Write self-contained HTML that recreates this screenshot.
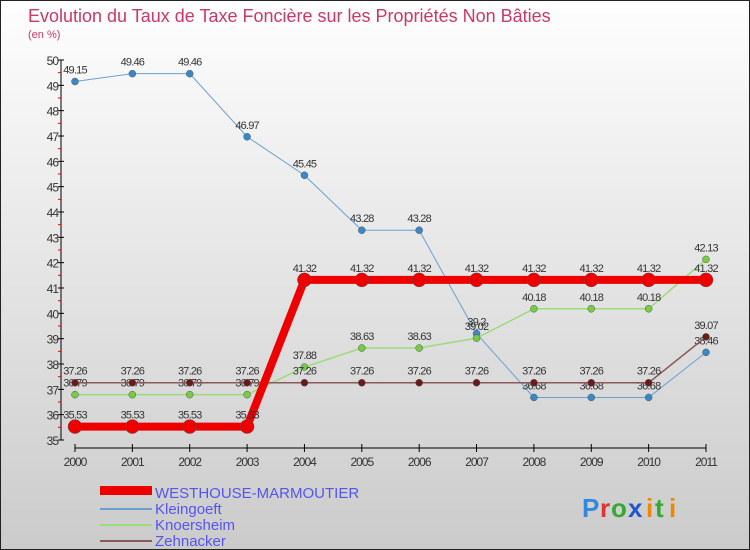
<!DOCTYPE html>
<html><head><meta charset="utf-8"><style>
body{margin:0;}
#wrap{width:750px;height:550px;position:relative;overflow:hidden;font-family:"Liberation Sans",sans-serif;}
</style></head><body>
<div id="wrap">
<svg id="svg" width="750" height="550" xmlns="http://www.w3.org/2000/svg">
<defs><linearGradient id="bg" x1="0" y1="0" x2="0" y2="1"><stop offset="0" stop-color="#fefefe"/><stop offset="1" stop-color="#cbcbcb"/></linearGradient></defs>
<rect x="0.5" y="0.5" width="749" height="549" fill="url(#bg)" stroke="#222"/>
<text x="28" y="22" font-size="18" fill="#c8386a">Evolution du Taux de Taxe Foncière sur les Propriétés Non Bâties</text>
<text x="28" y="38" font-size="11" fill="#c8386a">(en %)</text>
<g id="axes"></g>
<g id="series"></g>
<g id="legend">
<rect x="100" y="486" width="52" height="9" fill="#ee0000"/>
<text x="155" y="498" font-size="15" fill="#5555ee">WESTHOUSE-MARMOUTIER</text>
<line x1="100" y1="509" x2="152" y2="509" stroke="#6aa0d0" stroke-width="2"/>
<text x="155" y="514" font-size="15" fill="#5555ee">Kleingoeft</text>
<line x1="100" y1="525" x2="152" y2="525" stroke="#99dd77" stroke-width="2"/>
<text x="155" y="530" font-size="15" fill="#5555ee">Knoersheim</text>
<line x1="100" y1="541" x2="152" y2="541" stroke="#8a5a5a" stroke-width="2"/>
<text x="155" y="546" font-size="15" fill="#5555ee">Zehnacker</text>
</g>
<g font-size="26" font-weight="bold" font-family="Liberation Sans, sans-serif">
<text x="582" y="517" fill="#3388dd">P</text><text x="600" y="517" fill="#dd3333">r</text><text x="611" y="517" fill="#33aa33">o</text><text x="628" y="517" fill="#2255cc">x</text><text x="646" y="517" fill="#ee8800">i</text><text x="655" y="517" fill="#33aa33">t</text><text x="669" y="517" fill="#ee8800">i</text>
</g>
</svg>
</div>
<script>
const years=["2000","2001","2002","2003","2004","2005","2006","2007","2008","2009","2010","2011"];
const westhouse=[35.53,35.53,35.53,35.53,41.32,41.32,41.32,41.32,41.32,41.32,41.32,41.32];
const kleingoeft=[49.15,49.46,49.46,46.97,45.45,43.28,43.28,39.2,36.68,36.68,36.68,38.46];
const knoersheim=[36.79,36.79,36.79,36.79,37.88,38.63,38.63,39.02,40.18,40.18,40.18,42.13];
const zehnacker=[37.26,37.26,37.26,37.26,37.26,37.26,37.26,37.26,37.26,37.26,37.26,39.07];
const yTicks=[35,36,37,38,39,40,41,42,43,44,45,46,47,48,49,50];
const NS="http://www.w3.org/2000/svg";
const xS=i=>75+i*(706-75)/(years.length-1);
const yS=v=>440-(v-35)*(380/15);
function mk(t,a,p){const e=document.createElementNS(NS,t);for(const k in a)e.setAttribute(k,a[k]);p.appendChild(e);return e;}
const ax=document.getElementById('axes');
const yl=mk('line',{x1:61,y1:yS(50),x2:61,y2:yS(35),stroke:'#000','stroke-width':1},ax);


yTicks.forEach(v=>{
 const t=mk('line',{x1:58,y1:yS(v),x2:64,y2:yS(v),stroke:'#000'},ax);
 
 
 if(v<50){const m=mk('line',{x1:58,y1:yS(v+0.5),x2:61,y2:yS(v+0.5),stroke:'#e00'},ax);
 
 }
 const l=mk('text',{x:58,y:yS(v)+5,'font-size':12,fill:'#333','text-anchor':'end','letter-spacing':'-1'},ax);
 l.textContent=v;
 
 
});
const xl=mk('line',{x1:xS(0),y1:448,x2:xS(11),y2:448,stroke:'#000'},ax);


years.forEach((y,i)=>{
 const t=mk('line',{x1:xS(i),y1:444,x2:xS(i),y2:452,stroke:'#000'},ax);
 
 
 const l=mk('text',{x:xS(i),y:466,'font-size':12,fill:'#333','text-anchor':'middle','letter-spacing':'-1'},ax);
 l.textContent=y;
 
 
});
const sg=document.getElementById('series');
function draw(name,data,color,w,r,fill){
 const g=mk('g',{},sg);
 
 
 const pl=mk('polyline',{points:data.map((v,i)=>xS(i)+','+yS(v)).join(' '),fill:'none',stroke:color,'stroke-width':w},g);
 
 
 data.forEach((v,i)=>{
  const c=mk('circle',{cx:xS(i),cy:yS(v),r:r,fill:fill,stroke:'#555','stroke-width':0.5},g);
  
  
  const t=mk('text',{x:xS(i),y:yS(v)-8,'font-size':11,fill:'#333','text-anchor':'middle','letter-spacing':'-0.8'},g);
  t.textContent=v;
  
  
 });
}
draw('kleingoeft',kleingoeft,'#6aa0d0',1,3.5,'#3a88c8');
draw('knoersheim',knoersheim,'#99dd77',1.5,3.5,'#77cc44');
draw('zehnacker',zehnacker,'#8a5a5a',1.5,3.5,'#6a1a1a');
draw('westhouse',westhouse,'#ee0000',8,7,'#ee0000');
</script>
</body></html>
